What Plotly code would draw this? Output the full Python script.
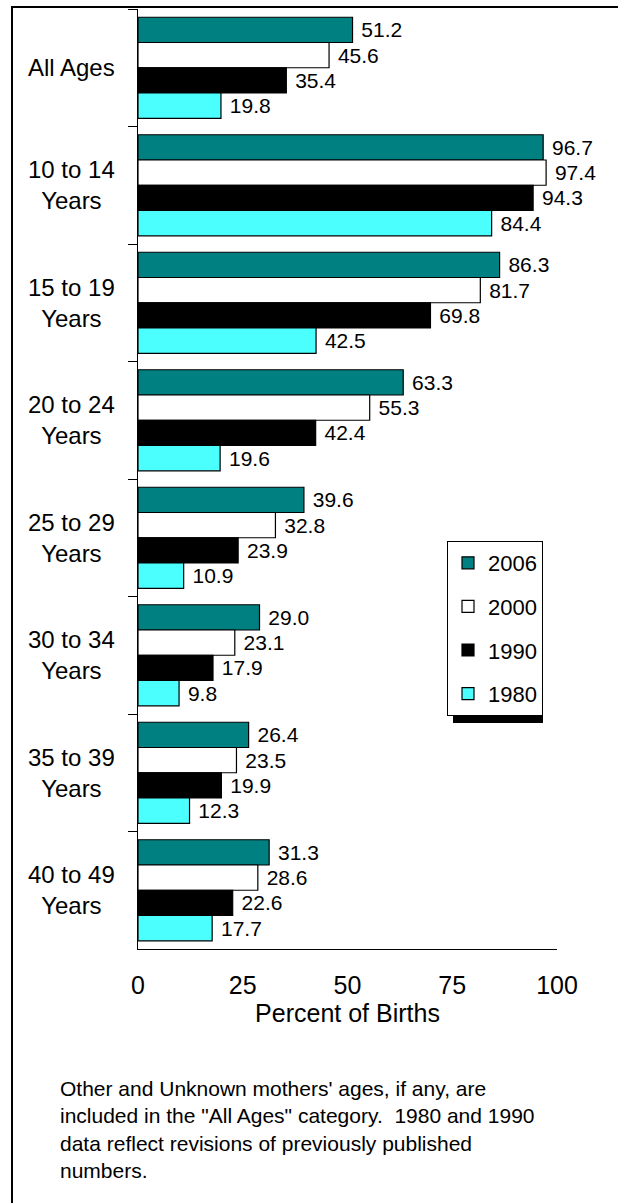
import plotly.graph_objects as go

# age groups, top to bottom
categories = ['All Ages', '10 to 14 Years', '15 to 19 Years', '20 to 24 Years',
              '25 to 29 Years', '30 to 34 Years', '35 to 39 Years', '40 to 49 Years']
cat_labels = ['All Ages', '10 to 14<br>Years', '15 to 19<br>Years', '20 to 24<br>Years',
              '25 to 29<br>Years', '30 to 34<br>Years', '35 to 39<br>Years', '40 to 49<br>Years']

years = ['2006', '2000', '1990', '1980']
v2006 = [51.2, 96.7, 86.3, 63.3, 39.6, 29.0, 26.4, 31.3]
v2000 = [45.6, 97.4, 81.7, 55.3, 32.8, 23.1, 23.5, 28.6]
v1990 = [35.4, 94.3, 69.8, 42.4, 23.9, 17.9, 19.9, 22.6]
v1980 = [19.8, 84.4, 42.5, 19.6, 10.9, 9.8, 12.3, 17.7]

x_ticks = [0, 25, 50, 75, 100]
x_title = 'Percent of Births'
note = ('Other and Unknown mothers\' ages, if any, are<br>'
        'included in the "All Ages" category.  1980 and 1990<br>'
        'data reflect revisions of previously published<br>'
        'numbers.')

colors = ['#008080', '#ffffff', '#000000', '#4cffff']
FONT = 'Arial, Liberation Sans, sans-serif'

W, H = 618, 1203
L, R, T, B = 138, 61, 9, 254
PW = W - L - R
PH = H - T - B


def px_x(p):
    return (p - L) / PW


def px_y(p):
    return (H - B - p) / PH


fig = go.Figure()
for yr, vals, col in zip(years, [v2006, v2000, v1990, v1980], colors):
    fig.add_trace(go.Bar(
        y=categories, x=vals, name=yr, orientation='h',
        marker=dict(color=col, line=dict(color='black', width=1.2)),
        texttemplate=' %{x:.1f}', textposition='outside',
        textfont=dict(size=21, color='black', family=FONT),
        constraintext='none', cliponaxis=False,
        legendgroup=yr,
    ))

# category labels, centred like the original
for cat, lab in zip(categories, cat_labels):
    fig.add_annotation(x=px_x(71), xref='paper', y=cat, yref='y', text=lab,
                       showarrow=False, xanchor='center', yanchor='middle',
                       align='center', font=dict(size=24, color='black', family=FONT))

fig.add_annotation(x=px_x(58), xref='paper', y=px_y(1075), yref='paper', text=note,
                   showarrow=False, xanchor='left', yanchor='top', align='left',
                   font=dict(size=21, color='black', family=FONT))

# outer frame (right/bottom edges run off the picture)
fig.add_shape(type='rect', xref='paper', yref='paper',
              x0=px_x(12), x1=px_x(640), y0=px_y(1230), y1=px_y(7),
              line=dict(color='black', width=2), layer='above')

# legend shadow
fig.add_shape(type='rect', xref='paper', yref='paper',
              x0=px_x(453), x1=px_x(543), y0=px_y(723), y1=px_y(547),
              fillcolor='black', line=dict(width=0), layer='above')

fig.update_layout(
    width=W, height=H,
    margin=dict(l=L, r=R, t=T, b=B),
    paper_bgcolor='white', plot_bgcolor='white',
    barmode='group', bargap=0.14, bargroupgap=0,
    font=dict(family=FONT, color='black'),
    showlegend=True,
    legend=dict(x=px_x(447), y=px_y(541), xanchor='left', yanchor='top',
                bgcolor='white', bordercolor='black', borderwidth=1,
                font=dict(size=22, color='black', family=FONT),
                traceorder='grouped', tracegroupgap=12),
    xaxis=dict(range=[0, 100], tickvals=x_ticks, showgrid=False, zeroline=False,
               showline=True, linecolor='black', linewidth=1, ticks='',
               tickfont=dict(size=25, color='black'), ticklabelstandoff=14,
               title=dict(text=x_title, font=dict(size=25, color='black'), standoff=4)),
    yaxis=dict(type='category', categoryorder='array', categoryarray=categories,
               range=[7.5, -0.5], showgrid=False, zeroline=False,
               showline=True, linecolor='black', linewidth=1,
               ticks='outside', tickson='boundaries', ticklen=9, tickcolor='black',
               showticklabels=False),
)

fig.write_html('out.html', config={'displayModeBar': False},
               post_script="document.body.style.margin='0';document.body.style.overflow='hidden';")
